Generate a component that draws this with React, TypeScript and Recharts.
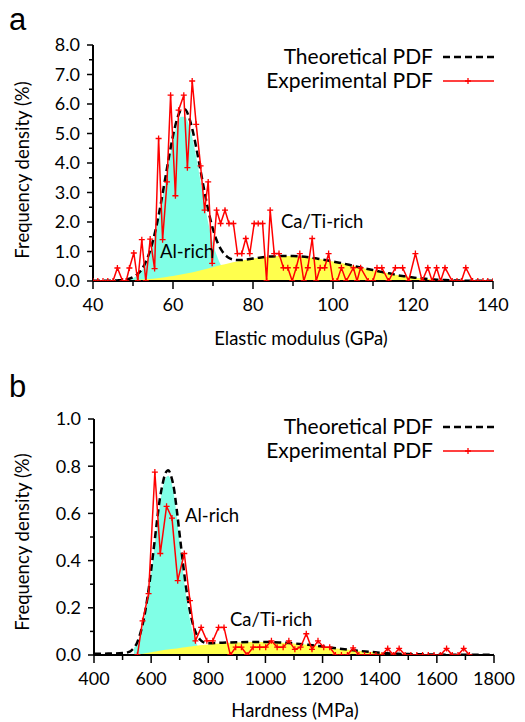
import { Area, ComposedChart, Line, XAxis, YAxis } from "recharts";

const FONT = "Lato, 'Open Sans', sans-serif";
const CYAN = "#80ffe6";
const YELLOW = "#ffff4d";
const RED = "#ff0000";

// ---- panel a: elastic modulus (GPa) ----
const modExpX = [40, 41.2, 42.5, 43.7, 45, 46.1, 47.4, 48.3, 49.1, 50.2, 51.2, 52.2, 53.2, 54.3, 55.4, 56.4, 57.4, 58.5, 59.4, 60.6, 61.4, 62.7, 63.6, 64.8, 65.8, 66.9, 67.9, 68.8, 69.8, 70.9, 71.9, 73, 74, 75.1, 76.1, 77.2, 78.2, 79.2, 80.3, 81.3, 82.4, 83.4, 84.3, 85.3, 86.5, 87.6, 88.7, 89.8, 90.8, 91.7, 92.7, 93.7, 94.8, 95.8, 96.8, 97.9, 98.9, 100, 101, 102.1, 103.3, 105.1, 106, 106.9, 108.8, 110, 111, 112.2, 113.9, 115.6, 117.4, 118.9, 120.6, 122.3, 123.7, 124.8, 125.9, 126.9, 128, 129.8, 131, 132.1, 133.2, 134.9, 136.2, 137.5, 138.7, 140];
const modExpY = [0, 0, 0, 0, 0, 0.44, 0, 0, 0.44, 0.95, 0, 1.4, 0, 1.42, 0.42, 4.83, 1.4, 3.36, 6.3, 2.89, 5.79, 6.3, 3.84, 6.78, 5.31, 3.9, 2.4, 3.36, 0.6, 2.4, 1.95, 2.4, 1.95, 1.95, 0.93, 0.93, 1.44, 0.93, 1.95, 1.95, 1.95, 0, 2.4, 0.93, 0.93, 0.45, 0.45, 0, 0.45, 0.93, 0, 0.45, 1.44, 0, 0.45, 0.45, 0.93, 0, 0, 0.45, 0, 0.45, 0, 0.45, 0, 0, 0.45, 0.45, 0, 0.45, 0.45, 0, 0.93, 0, 0.45, 0, 0.45, 0, 0.45, 0, 0, 0, 0.45, 0, 0, 0, 0, 0];

const modTheoX = [40, 42, 44, 46, 48, 50, 51, 52, 53, 54, 55, 56, 57, 58, 59, 60, 61, 62, 63, 64, 65, 66, 67, 68, 69, 70, 71, 72, 73, 74, 75, 76, 77, 78, 80, 82, 84, 86, 88, 90, 92, 94, 96, 98, 100, 102, 104, 106, 108, 110, 112, 114, 116, 118, 120, 122, 124, 126, 128, 130, 132, 134, 136, 138, 140];
const modTheoY = [0.01, 0.01, 0.01, 0.02, 0.04, 0.13, 0.22, 0.36, 0.59, 0.92, 1.37, 1.95, 2.65, 3.43, 4.21, 4.92, 5.48, 5.78, 5.81, 5.55, 5.05, 4.39, 3.66, 2.94, 2.29, 1.75, 1.35, 1.07, 0.89, 0.78, 0.73, 0.71, 0.71, 0.725, 0.76, 0.8, 0.83, 0.845, 0.85, 0.845, 0.83, 0.8, 0.76, 0.715, 0.66, 0.61, 0.55, 0.485, 0.425, 0.37, 0.31, 0.26, 0.2, 0.16, 0.12, 0.09, 0.065, 0.045, 0.03, 0.02, 0.015, 0.01, 0.008, 0.006, 0.005];

const modAlX = [46, 48, 50, 51, 52, 53, 54, 55, 56, 57, 58, 59, 60, 61, 62, 63, 64, 65, 66, 67, 68, 69, 70, 71, 72, 73, 74, 75, 76, 77, 78];
const modAlY = [0.005, 0.023, 0.094, 0.176, 0.31, 0.527, 0.845, 1.283, 1.853, 2.537, 3.296, 4.064, 4.754, 5.28, 5.564, 5.564, 5.28, 4.754, 4.064, 3.296, 2.537, 1.853, 1.283, 0.845, 0.527, 0.31, 0.176, 0.094, 0.047, 0.023, 0.01];

const modCaX = [46, 48, 50, 52, 54, 56, 58, 60, 62, 64, 66, 68, 70, 72, 74, 76, 78, 80, 82, 84, 86, 88, 90, 92, 94, 96, 98, 100, 102, 104, 106, 108, 110, 112, 114, 116, 118, 120, 122, 124, 126, 128, 130, 132, 134, 136, 138, 140];
const modCaY = [0.015, 0.02, 0.035, 0.05, 0.07, 0.095, 0.13, 0.17, 0.22, 0.27, 0.33, 0.4, 0.47, 0.54, 0.605, 0.665, 0.715, 0.76, 0.8, 0.83, 0.845, 0.85, 0.845, 0.83, 0.8, 0.76, 0.715, 0.66, 0.61, 0.55, 0.485, 0.425, 0.37, 0.31, 0.26, 0.2, 0.16, 0.12, 0.09, 0.065, 0.045, 0.03, 0.02, 0.015, 0.01, 0.008, 0.006, 0.005];

const modXTicks = [40, 50, 60, 70, 80, 90, 100, 110, 120, 130, 140];
const modYTicks = [0, 0.5, 1, 1.5, 2, 2.5, 3, 3.5, 4, 4.5, 5, 5.5, 6, 6.5, 7, 7.5, 8];

// ---- panel b: hardness (MPa) ----
const hardExpX = [552, 570, 591, 613, 632, 654, 673, 693, 716, 736, 755, 775, 795, 816, 836, 855, 877, 896, 916, 936, 957, 980, 1001, 1021, 1041, 1062, 1082, 1103, 1123, 1143, 1163, 1184, 1204, 1225, 1245, 1266, 1287, 1307, 1327, 1347, 1367, 1387, 1408, 1428, 1448, 1468, 1489, 1509, 1530, 1550, 1570, 1590, 1612, 1634, 1654, 1674, 1694, 1714];
const hardExpY = [0, 0.145, 0.26, 0.775, 0.43, 0.63, 0.58, 0.315, 0.43, 0.23, 0.06, 0.117, 0.06, 0.06, 0.117, 0.117, 0, 0.033, 0.033, 0, 0.033, 0.033, 0.033, 0.06, 0.033, 0.033, 0.06, 0.024, 0.033, 0.09, 0.024, 0.06, 0.033, 0.033, 0, 0, 0, 0.03, 0, 0, 0, 0, 0, 0.028, 0, 0.028, 0, 0, 0, 0, 0, 0, 0, 0.028, 0, 0, 0.028, 0];

const hardTheoX = [400, 450, 500, 520, 530, 540, 550, 560, 570, 580, 590, 600, 610, 620, 630, 640, 650, 660, 670, 680, 690, 700, 710, 720, 730, 740, 750, 760, 770, 780, 790, 800, 850, 900, 950, 1000, 1050, 1100, 1150, 1200, 1250, 1300, 1350, 1400, 1450, 1500, 1600, 1700, 1800];
const hardTheoY = [0.005, 0.006, 0.008, 0.012, 0.018, 0.03, 0.05, 0.083, 0.128, 0.19, 0.267, 0.36, 0.46, 0.563, 0.658, 0.724, 0.77, 0.783, 0.758, 0.704, 0.612, 0.508, 0.403, 0.305, 0.225, 0.161, 0.115, 0.085, 0.067, 0.056, 0.051, 0.05, 0.052, 0.054, 0.055, 0.055, 0.053, 0.049, 0.043, 0.036, 0.028, 0.021, 0.015, 0.01, 0.006, 0.004, 0.002, 0.001, 0.001];

const hardAlX = [540, 550, 560, 570, 580, 590, 600, 610, 620, 630, 640, 650, 660, 670, 680, 690, 700, 710, 720, 730, 740, 750, 760, 770, 780, 790];
const hardAlY = [0.03, 0.048, 0.079, 0.121, 0.181, 0.255, 0.344, 0.441, 0.54, 0.632, 0.704, 0.748, 0.76, 0.735, 0.678, 0.584, 0.478, 0.371, 0.272, 0.19, 0.125, 0.078, 0.046, 0.026, 0.014, 0.006];

const hardCaX = [550, 560, 580, 600, 620, 640, 660, 680, 700, 720, 740, 760, 780, 800, 850, 900, 950, 1000, 1050, 1100, 1150, 1200, 1250, 1300, 1350, 1400, 1450, 1500, 1600, 1700, 1800];
const hardCaY = [0, 0.003, 0.007, 0.012, 0.016, 0.02, 0.023, 0.026, 0.03, 0.033, 0.036, 0.039, 0.042, 0.045, 0.05, 0.053, 0.055, 0.055, 0.053, 0.049, 0.043, 0.036, 0.028, 0.021, 0.015, 0.01, 0.006, 0.004, 0.002, 0.001, 0];

const hardXTicks = [400, 500, 600, 700, 800, 900, 1000, 1100, 1200, 1300, 1400, 1500, 1600, 1700, 1800];
const hardYTicks = [0, 0.1, 0.2, 0.3, 0.4, 0.5, 0.6, 0.7, 0.8, 0.9, 1.0];

const pts = (xs: number[], ys: number[]) => xs.map((x, i) => ({ x, y: ys[i] }));

function PlusDot(props: any) {
  const { cx, cy, index } = props;
  if (cx == null || cy == null) return <g key={`d${index}`} />;
  return (
    <path
      key={`d${index}`}
      d={`M${cx - 3},${cy}h6M${cx},${cy - 3}v6`}
      stroke={RED}
      strokeWidth={1.3}
      fill="none"
    />
  );
}

function xTick(isMajor: (v: number) => boolean) {
  return (props: any) => {
    const { x, y, payload } = props;
    const major = isMajor(payload.value);
    return (
      <g>
        <line x1={x} x2={x} y1={y} y2={y + (major ? 8 : 5)} stroke="#000" strokeWidth={1.5} />
        {major && (
          <text x={x} y={y + 30} textAnchor="middle" fontSize={18} fontFamily={FONT} fill="#000">
            {payload.value}
          </text>
        )}
      </g>
    );
  };
}

function yTick(isMajor: (v: number) => boolean) {
  return (props: any) => {
    const { x, y, payload } = props;
    const major = isMajor(payload.value);
    return (
      <g>
        <line x1={x} x2={x - (major ? 6 : 4)} y1={y} y2={y} stroke="#000" strokeWidth={1.5} />
        {major && (
          <text x={x - 13} y={y} dy="0.35em" textAnchor="end" fontSize={18} fontFamily={FONT} fill="#000">
            {payload.value.toFixed(1)}
          </text>
        )}
      </g>
    );
  };
}

interface PanelProps {
  expData: { x: number; y: number }[];
  theoData: { x: number; y: number }[];
  alData: { x: number; y: number }[];
  caData: { x: number; y: number }[];
  xDomain: [number, number];
  yDomain: [number, number];
  xTicks: number[];
  yTicks: number[];
  xMajor: (v: number) => boolean;
  yMajor: (v: number) => boolean;
  yAxisWidth: number;
  right: number;
}

function Panel(p: PanelProps) {
  return (
    <ComposedChart width={525} height={340} margin={{ top: 45, right: p.right, bottom: 0, left: 0 }}>
      <XAxis
        dataKey="x"
        type="number"
        domain={p.xDomain}
        ticks={p.xTicks}
        interval={0}
        allowDataOverflow
        height={59}
        tickSize={0}
        tickMargin={0}
        tickLine={false}
        axisLine={{ stroke: "#000", strokeWidth: 2 }}
        tick={xTick(p.xMajor)}
      />
      <YAxis
        type="number"
        domain={p.yDomain}
        ticks={p.yTicks}
        interval={0}
        allowDataOverflow
        width={p.yAxisWidth}
        tickSize={0}
        tickMargin={0}
        tickLine={false}
        axisLine={{ stroke: "#000", strokeWidth: 2 }}
        tick={yTick(p.yMajor)}
      />
      <Area data={p.alData} dataKey="y" type="monotone" stroke="none" fill={CYAN} fillOpacity={1} isAnimationActive={false} />
      <Area data={p.caData} dataKey="y" type="monotone" stroke="none" fill={YELLOW} fillOpacity={1} isAnimationActive={false} />
      <Line data={p.theoData} dataKey="y" type="monotone" stroke="#000" strokeWidth={2.5} strokeDasharray="7 4" dot={false} isAnimationActive={false} />
      <Line data={p.expData} dataKey="y" type="linear" stroke={RED} strokeWidth={1.5} dot={PlusDot} isAnimationActive={false} />
    </ComposedChart>
  );
}

function LegendBox({ top }: { top: number }) {
  return (
    <g>
      <text x={433} y={top} dy="0.35em" textAnchor="end" fontSize={21} fontFamily={FONT}>Theoretical PDF</text>
      <line x1={443} x2={494} y1={top} y2={top} stroke="#000" strokeWidth={2.5} strokeDasharray="7 4" />
      <text x={433} y={top + 24} dy="0.35em" textAnchor="end" fontSize={21} fontFamily={FONT}>Experimental PDF</text>
      <line x1={443} x2={494} y1={top + 24} y2={top + 24} stroke={RED} strokeWidth={1.5} />
      <path d={`M${465},${top + 24}h6M${468},${top + 21}v6`} stroke={RED} strokeWidth={1.3} />
    </g>
  );
}

export default function App() {
  return (
    <div style={{ position: "absolute", left: 0, top: 0, width: 525, height: 722, background: "#fff", fontFamily: FONT }}>
      <div style={{ position: "absolute", left: 0, top: 0 }}>
        <Panel
          expData={pts(modExpX, modExpY)}
          theoData={pts(modTheoX, modTheoY)}
          alData={pts(modAlX, modAlY)}
          caData={pts(modCaX, modCaY)}
          xDomain={[40, 140]}
          yDomain={[0, 8]}
          xTicks={modXTicks}
          yTicks={modYTicks}
          xMajor={(v) => v % 20 === 0}
          yMajor={(v) => Number.isInteger(v)}
          yAxisWidth={93}
          right={32}
        />
      </div>
      <div style={{ position: "absolute", left: 0, top: 374 }}>
        <Panel
          expData={pts(hardExpX, hardExpY)}
          theoData={pts(hardTheoX, hardTheoY)}
          alData={pts(hardAlX, hardAlY)}
          caData={pts(hardCaX, hardCaY)}
          xDomain={[400, 1800]}
          yDomain={[0, 1]}
          xTicks={hardXTicks}
          yTicks={hardYTicks}
          xMajor={(v) => v % 200 === 0}
          yMajor={(v) => Math.round(v * 10) % 2 === 0}
          yAxisWidth={94}
          right={31}
        />
      </div>
      <svg width={525} height={722} style={{ position: "absolute", left: 0, top: 0, pointerEvents: "none" }}>
        <g fontFamily={FONT} fill="#000">
          <text x={9} y={30} fontSize={31} fontFamily="'Liberation Sans', Arial, sans-serif">a</text>
          <text x={9} y={397} fontSize={31} fontFamily="'Liberation Sans', Arial, sans-serif">b</text>
          <LegendBox top={57} />
          <LegendBox top={427} />
          <text x={160} y={252} dy="0.35em" fontSize={18.5}>Al-rich</text>
          <text x={281} y={222} dy="0.35em" fontSize={18.5}>Ca/Ti-rich</text>
          <text x={185} y={516} dy="0.35em" fontSize={18.5}>Al-rich</text>
          <text x={230} y={620} dy="0.35em" fontSize={18.5}>Ca/Ti-rich</text>
          <text x={301} y={339} dy="0.35em" textAnchor="middle" fontSize={18.5}>Elastic modulus (GPa)</text>
          <text x={295} y={711} dy="0.35em" textAnchor="middle" fontSize={18.5}>Hardness (MPa)</text>
          <text transform="translate(23,170) rotate(-90)" dy="0.35em" textAnchor="middle" fontSize={18.5}>Frequency density (%)</text>
          <text transform="translate(23,542) rotate(-90)" dy="0.35em" textAnchor="middle" fontSize={18.5}>Frequency density (%)</text>
        </g>
      </svg>
    </div>
  );
}
